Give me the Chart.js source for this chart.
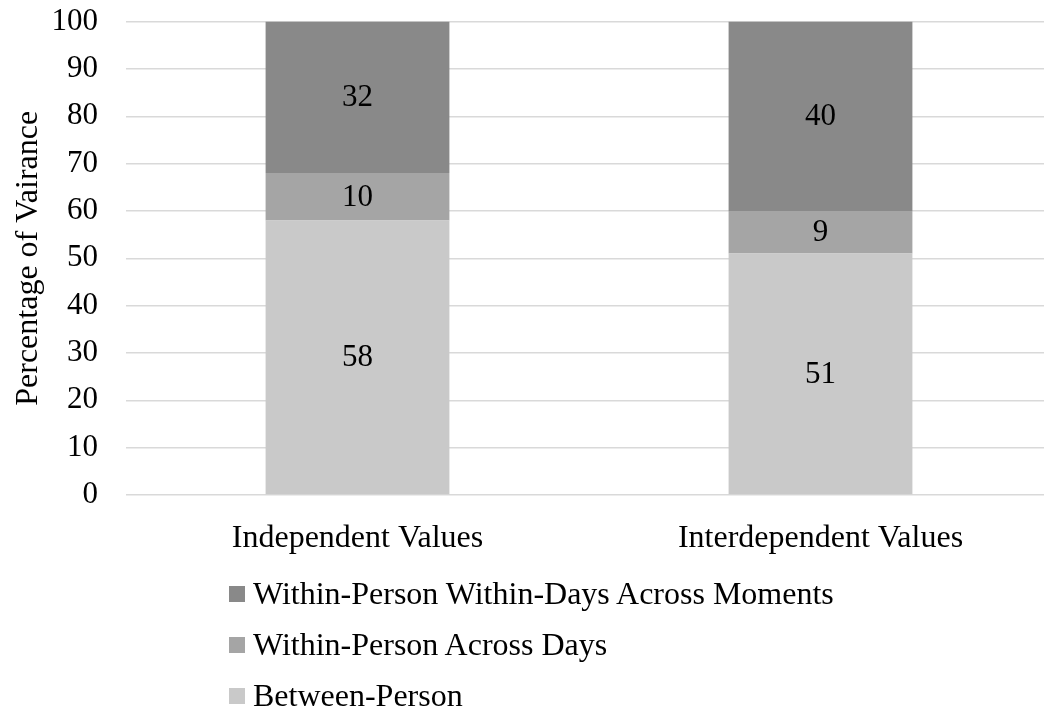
<!DOCTYPE html>
<html>
<head>
<meta charset="utf-8">
<script src="https://cdn.jsdelivr.net/npm/chart.js@4/dist/chart.umd.min.js"></script>
<style>
  html, body { margin: 0; padding: 0; background: #fff; overflow: hidden; width: 1044px; height: 713px; }
  #wrap { position: relative; width: 1052px; height: 713px; }
  #c { position: absolute; left: 0; top: -25px; }
  #legend { position: absolute; left: 229px; top: 568px; font-family: "Liberation Serif", "Times New Roman", serif; font-size: 32px; color: #000; }
  .item { height: 51px; display: flex; align-items: center; white-space: nowrap; }
  .sw { width: 16px; height: 16px; margin-right: 8px; flex: none; }
</style>
</head>
<body>
<div id="wrap">
  <canvas id="c" width="1052" height="595"></canvas>
  <div id="legend"></div>
</div>
<script>
const categories = ["Independent Values", "Interdependent Values"];
const seriesNames = ["Between-Person", "Within-Person Across Days", "Within-Person Within-Days Across Moments"];
const betweenPerson = [58, 51];
const acrossDays = [10, 9];
const withinDays = [32, 40];
const yTicks = [0, 10, 20, 30, 40, 50, 60, 70, 80, 90, 100];
const seriesColors = ["#c9c9c9", "#a5a5a5", "#898989"];

const FONT = '"Liberation Serif", "Times New Roman", serif';

const valueLabels = {
  id: 'valueLabels',
  afterDatasetsDraw(chart) {
    const ctx = chart.ctx;
    ctx.save();
    ctx.font = '31px ' + FONT;
    ctx.fillStyle = '#000';
    ctx.textAlign = 'center';
    ctx.textBaseline = 'middle';
    chart.data.datasets.forEach((ds, i) => {
      const meta = chart.getDatasetMeta(i);
      meta.data.forEach((bar, j) => {
        const p = bar.getProps(['x', 'y', 'base'], true);
        ctx.fillText(String(ds.data[j]), p.x, (p.y + p.base) / 2 + 1);
      });
    });
    ctx.restore();
  }
};

const chart = new Chart(document.getElementById('c'), {
  type: 'bar',
  data: {
    labels: categories,
    datasets: [
      { label: seriesNames[0], data: betweenPerson, backgroundColor: seriesColors[0] },
      { label: seriesNames[1], data: acrossDays, backgroundColor: seriesColors[1] },
      { label: seriesNames[2], data: withinDays, backgroundColor: seriesColors[2] }
    ]
  },
  options: {
    responsive: false,
    animation: false,
    devicePixelRatio: 1,
    layout: { padding: { top: 21, right: 0, left: 0, bottom: 0 } },
    datasets: { bar: { categoryPercentage: 1, barPercentage: 0.397, borderWidth: 0 } },
    plugins: { legend: { display: false }, tooltip: { enabled: false } },
    scales: {
      x: {
        stacked: true,
        grid: { display: false, drawTicks: false },
        border: { display: false },
        ticks: { color: '#000', font: { family: FONT, size: 32 }, padding: 24, maxRotation: 0 },
        afterFit(s) { s.height = 75; }
      },
      y: {
        stacked: true,
        min: 0, max: 100,
        afterBuildTicks(s) { s.ticks = yTicks.map(v => ({ value: v })); },
        grid: { color: '#d9d9d9', lineWidth: 1.5, drawTicks: false },
        border: { display: false },
        ticks: { color: '#000', font: { family: FONT, size: 31 }, padding: 28 },
        title: { display: true, text: 'Percentage of Vairance', color: '#000', font: { family: FONT, size: 32 }, padding: { top: 9, bottom: 0 } },
        afterFit(s) { s.width = 126; }
      }
    }
  },
  plugins: [valueLabels]
});

const legend = document.getElementById('legend');
chart.data.datasets.slice().reverse().forEach(ds => {
  const row = document.createElement('div');
  row.className = 'item';
  const sw = document.createElement('span');
  sw.className = 'sw';
  sw.style.background = ds.backgroundColor;
  const t = document.createElement('span');
  t.textContent = ds.label;
  row.appendChild(sw);
  row.appendChild(t);
  legend.appendChild(row);
});
</script>
</body>
</html>
